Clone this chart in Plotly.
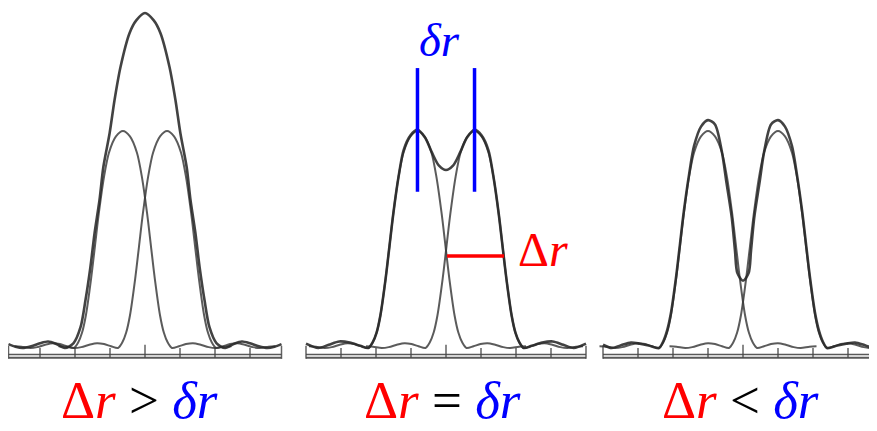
import plotly.graph_objects as go

# ---------------- data ----------------
# single-source intensity profile: one-sided offset (tick units) and relative height
profile_offset = [0, 0.2, 0.4, 0.54, 0.69, 0.80, 0.91, 1.06, 1.17, 1.28, 1.40,
                  1.6, 1.8, 2.0, 2.2, 2.45, 2.65, 2.9, 3.1]
profile_height = [1.0, 0.975, 0.90, 0.79, 0.62, 0.47, 0.32, 0.15, 0.07, 0.025, 0.0,
                  0.008, 0.018, 0.022, 0.016, 0.004, 0.0, 0.006, 0.008]

# half separation of the two sources in each panel (tick units)
half_separation = [0.63, 0.815, 1.0]

# summed curves, one-sided (offset from panel centre, height)
sum1_offset = [0, 0.25, 0.44, 0.70, 0.87, 1.01, 1.19, 1.30, 1.44, 1.56, 1.70, 1.84,
               2.04, 2.29, 2.55, 2.77, 3.0, 3.25, 3.5, 3.7, 3.9]
sum1_height = [1.544, 1.51, 1.452, 1.295, 1.143, 0.991, 0.834, 0.682, 0.530, 0.373,
               0.221, 0.097, 0.023, 0.0, 0.02, 0.03, 0.022, 0.008, 0.0, 0.006, 0.018]

sum2_offset = [0, 0.2, 0.4, 0.6, 0.815, 1.015, 1.215, 1.355, 1.505, 1.615, 1.725,
               1.875, 1.985, 2.1, 2.22, 2.45, 2.75, 3.05, 3.35, 3.65, 4.0]
sum2_height = [0.82, 0.84, 0.90, 0.97, 1.005, 0.98, 0.91, 0.79, 0.62, 0.47, 0.32,
               0.15, 0.07, 0.025, 0.0, 0.01, 0.025, 0.03, 0.015, 0.0, 0.02]

sum3_offset = [0, 0.16, 0.23, 0.32, 0.47, 0.61, 0.8, 1.0, 1.2, 1.4, 1.54, 1.69, 1.80,
               1.91, 2.06, 2.17, 2.28, 2.4, 2.7, 2.95, 3.2, 3.5, 3.75, 4.0]
sum3_height = [0.31, 0.345, 0.45, 0.60, 0.76, 0.91, 1.03, 1.05, 1.02, 0.93, 0.80,
               0.63, 0.48, 0.33, 0.16, 0.08, 0.03, 0.0, 0.012, 0.02, 0.025, 0.012,
               0.0, 0.015]

# axis extents and tick positions (tick units)
axis_extent = [(-3.9, 3.9), (-4.0, 4.0), (-4.0, 4.0)]
tick_positions = [-3, -2, -1, 0, 1, 2, 3]

# labels
bottom_labels = ["&gt;", "=", "&lt;"]

# ---------------- layout constants ----------------
# the page body adds an 8px margin, so the figure is 8px smaller than the window
OFF = 8
W, H = 877 - OFF, 431 - OFF
PX_PER_UNIT_X = 35.0
PX_PER_UNIT_Y = 217.0
BASE_PX = 348.0 - OFF
centers_px = [145 - OFF, 446 - OFF, 743 - OFF]

CURVE = "rgba(40,40,40,0.88)"
THIN = "rgba(55,55,55,0.82)"
RED = "#ff0000"
BLUE = "#0000ff"
SERIF = "Liberation Serif"


def mirror(off, h):
    xs = [-o for o in off[::-1]] + list(off[1:])
    ys = list(h[::-1]) + list(h[1:])
    return xs, ys


def ypx(screen_y):
    """height value for a screen pixel row"""
    return (BASE_PX - (screen_y - OFF)) / PX_PER_UNIT_Y


def x1(panel, offset):
    """position on the first x axis for an offset inside a panel"""
    return (centers_px[panel] - centers_px[0]) / PX_PER_UNIT_X + offset


fig = go.Figure()
sums = [(sum1_offset, sum1_height), (sum2_offset, sum2_height), (sum3_offset, sum3_height)]
px, ph = mirror(profile_offset, profile_height)

for k in range(3):
    xa = "x" if k == 0 else f"x{k+1}"
    lo, hi = axis_extent[k]
    for yy, w in [(-0.030, 1.4), (-0.045, 1.8)]:
        fig.add_trace(go.Scatter(x=[lo, hi], y=[yy, yy], mode="lines",
                                 line=dict(color="rgba(60,60,60,0.85)", width=w),
                                 xaxis=xa, yaxis="y", hoverinfo="skip"))
    tx, ty = [], []
    for t in tick_positions:
        top = 0.015 if t == 0 else 0.0
        tx += [t, t, None]
        ty += [-0.045, top, None]
    for e in (lo, hi):
        tx += [e, e, None]
        ty += [-0.05, 0.01, None]
    fig.add_trace(go.Scatter(x=tx, y=ty, mode="lines",
                             line=dict(color="rgba(70,70,70,0.85)", width=1.5),
                             xaxis=xa, yaxis="y", hoverinfo="skip"))
    for sgn in (-1, 1):
        c = sgn * half_separation[k]
        fig.add_trace(go.Scatter(x=[c + v for v in px], y=ph, mode="lines",
                                 line=dict(color=THIN, width=2.0, shape="spline", smoothing=0.8),
                                 xaxis=xa, yaxis="y", hoverinfo="skip"))
    sx, sy = mirror(*sums[k])
    fig.add_trace(go.Scatter(x=sx, y=sy, mode="lines",
                             line=dict(color=CURVE, width=2.6, shape="spline", smoothing=0.8),
                             xaxis=xa, yaxis="y", hoverinfo="skip"))

# blue markers of peak positions (panel 2)
hs = half_separation[1]
fig.add_trace(go.Scatter(x=[-hs, -hs, None, hs, hs], y=[0.72, 1.29, None, 0.72, 1.29],
                         mode="lines", line=dict(color=BLUE, width=3.5),
                         xaxis="x2", yaxis="y", hoverinfo="skip"))
# red delta-r bar (panel 2)
fig.add_trace(go.Scatter(x=[0.03, 1.66], y=[0.424, 0.424], mode="lines",
                         line=dict(color=RED, width=3.5),
                         xaxis="x2", yaxis="y", hoverinfo="skip"))

ann = []
ann.append(dict(x=x1(1, -0.2), y=ypx(40), xref="x", yref="y",
                text='<i>δr</i>', showarrow=False,
                font=dict(family=SERIF, size=47, color=BLUE)))
ann.append(dict(x=x1(1, 2.77), y=ypx(249), xref="x", yref="y",
                text='Δ<i>r</i>', showarrow=False,
                font=dict(family=SERIF, size=48, color=RED)))
label_x = [-0.17, -0.1, -0.07]
for k in range(3):
    txt = ('<span style="color:#ff0000">Δ<i>r</i></span> '
           f'<span style="color:#000000">{bottom_labels[k]}</span> '
           '<span style="color:#0000ff"><i>δr</i></span>')
    ann.append(dict(x=x1(k, label_x[k]), y=ypx(431), xref="x", yref="y",
                    yanchor="bottom", text=txt, showarrow=False,
                    font=dict(family=SERIF, size=53, color="#000")))

layout_axes = {}
for k in range(3):
    name = "xaxis" if k == 0 else f"xaxis{k+1}"
    c = centers_px[k]
    ax = dict(domain=[0, 1], range=[-c / PX_PER_UNIT_X, (W - c) / PX_PER_UNIT_X],
              visible=False, fixedrange=True, anchor="y")
    if k > 0:
        ax["overlaying"] = "x"
    layout_axes[name] = ax

fig.update_layout(
    width=W, height=H,
    margin=dict(l=0, r=0, t=0, b=0),
    paper_bgcolor="white", plot_bgcolor="white",
    showlegend=False,
    font=dict(family=SERIF),
    yaxis=dict(range=[-(H - BASE_PX) / PX_PER_UNIT_Y, BASE_PX / PX_PER_UNIT_Y],
               visible=False, fixedrange=True, domain=[0, 1]),
    annotations=ann,
    **layout_axes,
)

fig.write_html("out.html")
